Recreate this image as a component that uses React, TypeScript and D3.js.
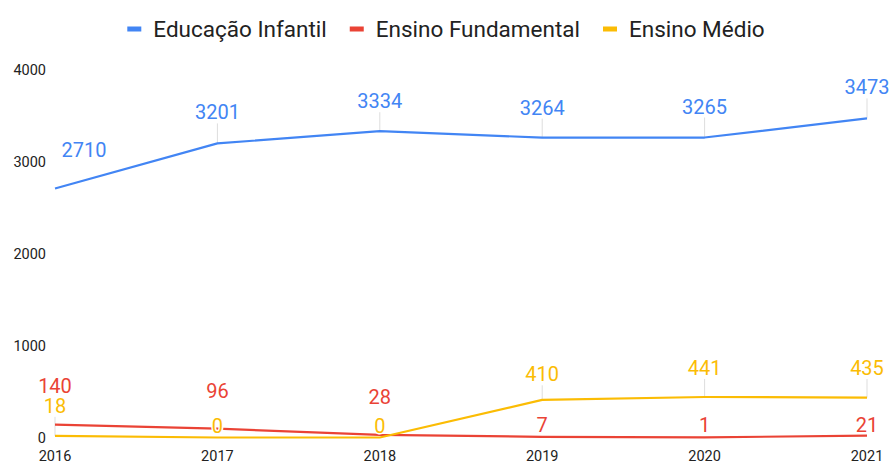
import React from "react";
import * as d3 from "d3";

const years = ["2016", "2017", "2018", "2019", "2020", "2021"];
const infantil = [2710, 3201, 3334, 3264, 3265, 3473];
const fundamental = [140, 96, 28, 7, 1, 21];
const medio = [18, 0, 0, 410, 441, 435];
const yTicks = [0, 1000, 2000, 3000, 4000];

// label placement (baseline distance above point, horizontal shift, leader line)
const infantilLabelLift = [32, 24, 23, 23, 24, 24];
const infantilLabelShift = [29, 0, 0, 0, 0, 0];
const infantilLeader = [false, true, true, true, true, true];
const fundamentalLabelLift = [31.5, 30.5, 30.5, 5, 5, 3.6];
const fundamentalLeader = [false, false, false, false, false, false];
const medioLabelLift = [23, 5, 5, 18.5, 22, 22.5];
const medioLeader = [true, false, false, true, true, true];

const series = [
  { name: "Educação Infantil", color: "#4285F4", values: infantil, lift: infantilLabelLift, shift: infantilLabelShift, leader: infantilLeader },
  { name: "Ensino Fundamental", color: "#EA4335", values: fundamental, lift: fundamentalLabelLift, shift: [0, 0, 0, 0, 0, 0], leader: fundamentalLeader },
  { name: "Ensino Médio", color: "#FBBC04", values: medio, lift: medioLabelLift, shift: [0, 0, 0, 0, 0, 0], leader: medioLeader },
];

const W = 892;
const H = 464;
const FONT = "Roboto, 'Noto Sans', sans-serif";

export default function App() {
  const x = d3.scalePoint<string>().domain(years).range([55, 867]);
  const y = d3.scaleLinear().domain([0, 4000]).range([437.5, 70]);
  const line = d3
    .line<number>()
    .x((_, i) => x(years[i]) as number)
    .y((d) => y(d));

  // legend layout
  const legendFont = 22.5;
  const measure = (s: string) => {
    if (typeof document === "undefined") return s.length * 11;
    const c = document.createElement("canvas").getContext("2d")!;
    c.font = `${legendFont}px Roboto`;
    return c.measureText(s).width;
  };
  const markerW = 14;
  const markerGap = 12;
  const itemGap = 23;
  const widths = series.map((s) => markerW + markerGap + measure(s.name));
  const total = widths.reduce((a, b) => a + b, 0) + itemGap * (series.length - 1);
  let lx = (W - total) / 2;
  const legendItems = series.map((s, i) => {
    const item = { ...s, x: lx };
    lx += widths[i] + itemGap;
    return item;
  });

  return (
    <svg
      width={W}
      height={H}
      style={{ position: "absolute", left: 0, top: 0, display: "block", background: "#fff" }}
      fontFamily={FONT}
    >
      <rect width={W} height={H} fill="#fff" />
      {/* legend */}
      {legendItems.map((s) => (
        <g key={s.name}>
          <rect x={s.x} y={26.5} width={markerW} height={5} fill={s.color} />
          <text x={s.x + markerW + markerGap} y={37} fontSize={legendFont} fill="#222">
            {s.name}
          </text>
        </g>
      ))}
      {/* y axis labels */}
      {yTicks.map((t) => (
        <text key={t} x={46} y={y(t) + 5} fontSize={14.5} textAnchor="end" fill="#222">
          {t}
        </text>
      ))}
      {/* x axis labels */}
      {years.map((yr) => (
        <text key={yr} x={x(yr)} y={461} fontSize={14.5} textAnchor="middle" fill="#222">
          {yr}
        </text>
      ))}
      {/* leader lines */}
      {series.map((s) =>
        s.values.map((v, i) =>
          s.leader[i] ? (
            <line
              key={s.name + "l" + i}
              x1={x(years[i])}
              x2={x(years[i])}
              y1={y(v) - s.lift[i] + 4}
              y2={y(v)}
              stroke="#ddd"
              strokeWidth={1}
            />
          ) : null
        )
      )}
      {/* lines */}
      {series.map((s) => (
        <path key={s.name} d={line(s.values) || ""} fill="none" stroke={s.color} strokeWidth={2.2} strokeLinejoin="round" />
      ))}
      {/* data labels */}
      {series.map((s) =>
        s.values.map((v, i) => (
          <text
            key={s.name + "t" + i}
            x={(x(years[i]) as number) + s.shift[i]}
            y={y(v) - s.lift[i]}
            fontSize={20}
            textAnchor="middle"
            fill={s.color}
            stroke="#fff"
            strokeWidth={3}
            paintOrder="stroke"
            strokeLinejoin="round"
          >
            {v}
          </text>
        ))
      )}
    </svg>
  );
}
